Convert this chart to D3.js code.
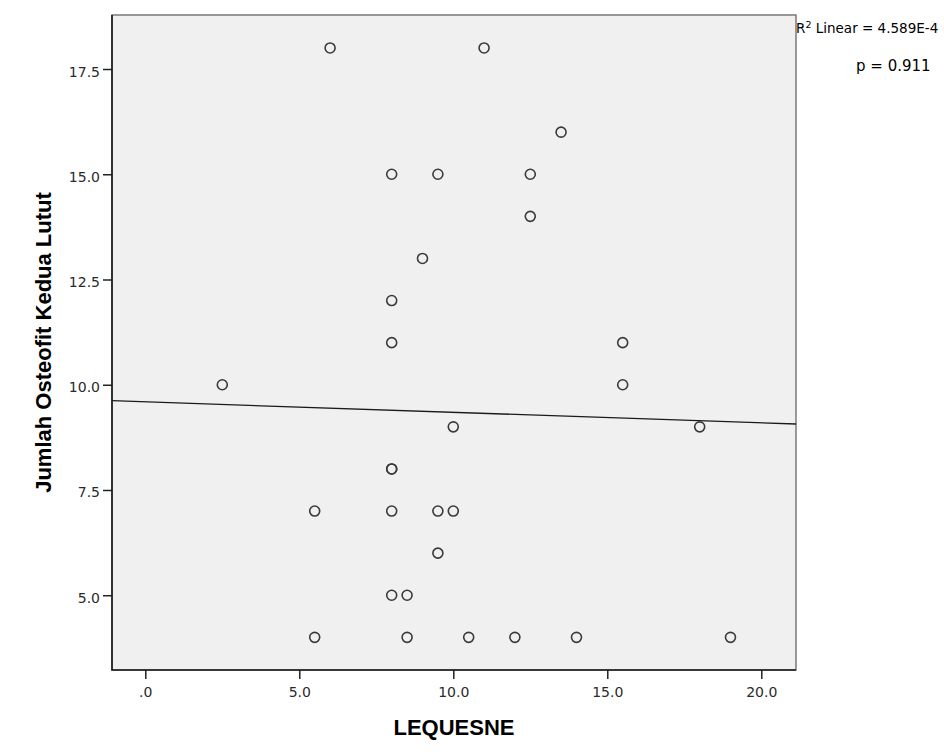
<!DOCTYPE html>
<html>
<head>
<meta charset="utf-8">
<script src="https://cdn.jsdelivr.net/npm/d3@7"></script>
<style>
  body { margin: 0; background: #ffffff; }
  svg { display: block; }
</style>
</head>
<body>
<svg id="chart" width="944" height="752"></svg>
<script>
// LEQUESNE index vs number of osteophytes (both knees)
const lequesne = [6, 11, 13.5, 8, 9.5, 12.5, 12.5, 9, 8, 8, 15.5, 2.5, 15.5, 10, 18,
                  8, 8, 5.5, 8, 9.5, 10, 9.5, 8, 8.5, 5.5, 8.5, 10.5, 12, 14, 19];
const osteofit = [18, 18, 16, 15, 15, 15, 14, 13, 12, 11, 11, 10, 10, 9, 9,
                  8, 8, 7, 7, 7, 7, 6, 5, 5, 4, 4, 4, 4, 4, 4];

const xTicks = [0, 5, 10, 15, 20];
const yTicks = [5, 7.5, 10, 12.5, 15, 17.5];

// fit line as printed by SPSS
const fitIntercept = 9.594;
const fitSlope = -0.0249;
const r2Label = "4.589E-4";
const pLabel = "p = 0.911";

const xTitle = "LEQUESNE";
const yTitle = "Jumlah Osteofit Kedua Lutut";

const width = 944, height = 752;
const plot = {left: 112, top: 15, right: 796, bottom: 670};

const svg = d3.select("#chart");

const x = d3.scaleLinear()
    .domain([-1.081, 21.127])
    .range([plot.left, plot.right]);

const y = d3.scaleLinear()
    .domain([3.224, 18.783])
    .range([plot.bottom, plot.top]);

const fmt = d => d3.format(".1f")(d).replace(/^0\./, ".");

// plot background + frame
svg.append("rect")
    .attr("x", plot.left)
    .attr("y", plot.top)
    .attr("width", plot.right - plot.left)
    .attr("height", plot.bottom - plot.top)
    .attr("fill", "#f0f0f0")
    .attr("stroke", "#7a7a7a")
    .attr("stroke-width", 1.5);

const points = lequesne.map((v, i) => ({x: v, y: osteofit[i]}));

svg.append("clipPath")
    .attr("id", "plotclip")
    .append("rect")
    .attr("x", plot.left)
    .attr("y", plot.top)
    .attr("width", plot.right - plot.left)
    .attr("height", plot.bottom - plot.top);

// regression line across the whole x range
const [x0, x1] = x.domain();
svg.append("line")
    .attr("clip-path", "url(#plotclip)")
    .attr("x1", x(x0))
    .attr("y1", y(fitIntercept + fitSlope * x0))
    .attr("x2", x(x1))
    .attr("y2", y(fitIntercept + fitSlope * x1))
    .attr("stroke", "#1a1a1a")
    .attr("stroke-width", 1.3);

svg.append("g")
    .attr("class", "points")
    .selectAll("circle")
    .data(points)
    .join("circle")
    .attr("cx", d => x(d.x))
    .attr("cy", d => y(d.y))
    .attr("r", 5)
    .attr("fill", "none")
    .attr("stroke", "#3a3a3a")
    .attr("stroke-width", 1.6);

// axes
const xAxis = svg.append("g")
    .attr("transform", `translate(0,${plot.bottom})`)
    .call(d3.axisBottom(x).tickValues(xTicks).tickFormat(fmt).tickSize(9).tickPadding(8));

const yAxis = svg.append("g")
    .attr("transform", `translate(${plot.left},0)`)
    .call(d3.axisLeft(y).tickValues(yTicks).tickFormat(fmt).tickSize(9).tickPadding(3));

[xAxis, yAxis].forEach(g => {
    g.select(".domain").remove();
    g.selectAll(".tick line")
        .attr("stroke", "#222")
        .attr("stroke-width", 1.5);
    g.selectAll(".tick text")
        .attr("font-family", "DejaVu Sans, sans-serif")
        .attr("font-size", 14)
        .attr("fill", "#2a2a2a");
});

yAxis.selectAll(".tick text").attr("dy", "0.5em");

// darker left / bottom axis lines
svg.append("path")
    .attr("d", `M${plot.left},${plot.top}V${plot.bottom}H${plot.right}`)
    .attr("fill", "none")
    .attr("stroke", "#1a1a1a")
    .attr("stroke-width", 1.6);

// titles
svg.append("text")
    .attr("x", (plot.left + plot.right) / 2)
    .attr("y", 735)
    .attr("text-anchor", "middle")
    .attr("font-family", "Liberation Sans, Arial, sans-serif")
    .attr("font-weight", "bold")
    .attr("font-size", 22)
    .attr("fill", "#000")
    .text(xTitle);

svg.append("text")
    .attr("transform", `translate(51,${(plot.top + plot.bottom) / 2}) rotate(-90)`)
    .attr("text-anchor", "middle")
    .attr("font-family", "Liberation Sans, Arial, sans-serif")
    .attr("font-weight", "bold")
    .attr("font-size", 22)
    .attr("fill", "#000")
    .text(yTitle);

// fit annotation
const r2 = svg.append("text")
    .attr("x", 796)
    .attr("y", 33)
    .attr("font-family", "DejaVu Sans, sans-serif")
    .attr("font-size", 13.5)
    .attr("fill", "#000");
r2.append("tspan").text("R");
r2.append("tspan").attr("font-size", 9.5).attr("dy", -5).text("2");
r2.append("tspan").attr("dy", 5).text(" Linear = " + r2Label);

svg.append("text")
    .attr("x", 856)
    .attr("y", 71)
    .attr("font-family", "DejaVu Sans, sans-serif")
    .attr("font-size", 15)
    .attr("fill", "#000")
    .text(pLabel);
</script>
</body>
</html>
